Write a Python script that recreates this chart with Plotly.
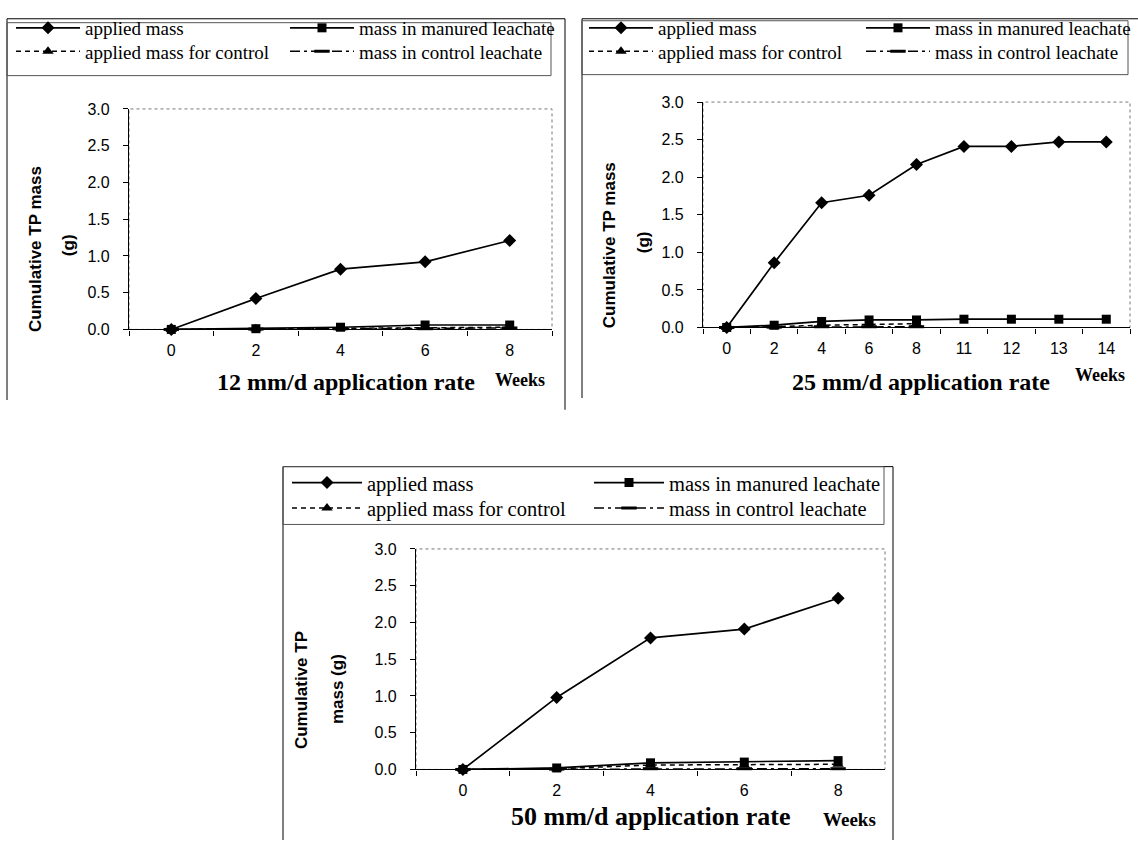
import plotly.graph_objects as go

W, H = 1138, 849

# ---------------- data ----------------
weeks_12 = ["0", "2", "4", "6", "8"]
applied_12 = [0.0, 0.42, 0.82, 0.92, 1.21]
manured_leach_12 = [0.0, 0.01, 0.03, 0.06, 0.06]
applied_ctrl_12 = [0.0, 0.01, 0.02, 0.03, 0.03]
ctrl_leach_12 = [0.0, 0.005, 0.01, 0.01, 0.02]

weeks_25 = ["0", "2", "4", "6", "8", "11", "12", "13", "14"]
applied_25 = [0.0, 0.86, 1.66, 1.76, 2.17, 2.41, 2.41, 2.47, 2.47]
manured_leach_25 = [0.0, 0.03, 0.08, 0.10, 0.10, 0.11, 0.11, 0.11, 0.11]
weeks_25_ctrl = ["0", "2", "4", "6", "8"]
applied_ctrl_25 = [0.0, 0.01, 0.03, 0.04, 0.05]
ctrl_leach_25 = [0.0, 0.005, 0.01, 0.01, 0.01]

weeks_50 = ["0", "2", "4", "6", "8"]
applied_50 = [0.0, 0.98, 1.79, 1.91, 2.33]
manured_leach_50 = [0.0, 0.02, 0.09, 0.10, 0.12]
applied_ctrl_50 = [0.0, 0.01, 0.06, 0.06, 0.07]
ctrl_leach_50 = [0.0, 0.005, 0.01, 0.01, 0.01]

series_names = ["applied mass", "mass in manured leachate",
                "applied mass for control", "mass in control leachate"]
rate_titles = ["12 mm/d application rate", "25 mm/d application rate",
               "50 mm/d application rate"]


def fx(p):
    return p / W


def fy(p):
    return 1 - p / H


SERIF = "Liberation Serif, Times New Roman, serif"
SANS = "Liberation Sans, Arial, sans-serif"

styles = [
    dict(dash="solid", symbol="diamond", size=10, lw=1.7),
    dict(dash="solid", symbol="square", size=9, lw=1.7),
    dict(dash="5px,4px", symbol="triangle-up", size=10, lw=1.5),
    dict(dash="10px,4px,3px,4px", symbol="line-ew", size=11, lw=1.5),
]

panels = [
    dict(x=[weeks_12, weeks_12, weeks_12, weeks_12],
         y=[applied_12, manured_leach_12, applied_ctrl_12, ctrl_leach_12],
         cats=weeks_12, plot=(129, 552, 103, 328),
         ytitle=[("Cumulative TP mass", 35, 246), ("(g)", 68, 242)],
         xtitle=(346, 382, 24), weeks=(520, 380, 18),
         leg=dict(x0=11, tops=(1, 25), iw=64, ew=195, fs=19),
         frame=[(7, 11, 7, 400), (7, 11, 565, 11), (565, 11, 565, 410)],
         legbox=(7, 15, 551, 69)),
    dict(x=[weeks_25, weeks_25, weeks_25_ctrl, weeks_25_ctrl],
         y=[applied_25, manured_leach_25, applied_ctrl_25, ctrl_leach_25],
         cats=weeks_25, plot=(703, 1130, 96, 326),
         ytitle=[("Cumulative TP mass", 609, 242), ("(g)", 643, 239)],
         xtitle=(921, 382, 24), weeks=(1100, 375, 18),
         leg=dict(x0=584, tops=(1, 25), iw=64, ew=198, fs=19),
         frame=[(582, 11, 582, 398), (582, 11, 1138, 11)],
         legbox=(582, 13, 1128, 68)),
    dict(x=[weeks_50, weeks_50, weeks_50, weeks_50],
         y=[applied_50, manured_leach_50, applied_ctrl_50, ctrl_leach_50],
         cats=weeks_50, plot=(416, 885, 552, 777),
         ytitle=[("Cumulative TP", 301, 696), ("mass (g)", 337, 695)],
         xtitle=(651, 825, 26), weeks=(849, 828, 19),
         leg=dict(x0=287, tops=(464, 490), iw=70, ew=217, fs=20.5),
         frame=[(283, 468, 283, 849), (283, 468, 893, 468), (893, 468, 893, 849)],
         legbox=(283, 468, 884, 527)),
]

fig = go.Figure()
layout = dict(width=W, height=H, margin=dict(l=0, r=0, t=0, b=0),
              paper_bgcolor="white", plot_bgcolor="white",
              font=dict(family=SANS, color="black"))
shapes = []
annotations = []
legend_idx = 1

for pi, p in enumerate(panels):
    suffix = "" if pi == 0 else str(pi + 1)
    xa, ya = "x" + suffix, "y" + suffix
    x0, x1, yt, yb = p["plot"]
    leg_names = []
    for r in range(2):
        leg_names.append("legend" + ("" if legend_idx == 1 else str(legend_idx)))
        legend_idx += 1
    for si in range(4):
        st = styles[si]
        marker = dict(symbol=st["symbol"], size=st["size"], color="black",
                      line=dict(color="black", width=3 if st["symbol"] == "line-ew" else 0))
        fig.add_trace(go.Scatter(
            x=p["x"][si], y=p["y"][si], name=series_names[si],
            mode="lines+markers", xaxis=xa, yaxis=ya,
            line=dict(color="black", width=st["lw"], dash=st["dash"]),
            marker=marker, cliponaxis=False,
            legend=leg_names[si // 2], showlegend=True))
    n = len(p["cats"])
    layout["xaxis" + suffix] = dict(
        domain=[fx(x0), fx(x1)], anchor=ya, type="category",
        categoryorder="array", categoryarray=p["cats"], range=[-0.5, n - 0.5],
        showline=True, linecolor="black", linewidth=1.3, mirror=False,
        ticks="outside", ticklen=5, tickcolor="black", tickwidth=1,
        tickson="boundaries", showgrid=False, zeroline=False,
        tickfont=dict(family=SANS, size=16, color="black"),
        ticklabelstandoff=6, fixedrange=True)
    layout["yaxis" + suffix] = dict(
        domain=[fy(yb), fy(yt)], anchor=xa, range=[0, 3], dtick=0.5,
        tickformat=".1f", showline=True, linecolor="black", linewidth=1.3,
        ticks="outside", ticklen=5, tickcolor="black", tickwidth=1,
        showgrid=False, zeroline=False,
        tickfont=dict(family=SANS, size=16, color="black"),
        ticklabelstandoff=10, fixedrange=True)
    # plot-area dotted border
    shapes.append(dict(type="rect", xref=xa + " domain", yref=ya + " domain",
                       x0=0, x1=1, y0=0, y1=1, layer="below",
                       line=dict(color="#777777", width=1, dash="dot")))
    # panel frame lines
    for (ax0, ay0, ax1, ay1) in p["frame"]:
        shapes.append(dict(type="line", xref="paper", yref="paper",
                           x0=fx(ax0), y0=fy(ay0), x1=fx(ax1), y1=fy(ay1),
                           line=dict(color="black", width=1)))
    bx0, by0, bx1, by1 = p["legbox"]
    shapes.append(dict(type="rect", xref="paper", yref="paper",
                       x0=fx(bx0), y0=fy(by1), x1=fx(bx1), y1=fy(by0),
                       line=dict(color="#555555", width=1)))
    # axis titles
    for (txt, tx, ty) in p["ytitle"]:
        annotations.append(dict(text="<b>%s</b>" % txt, xref="paper", yref="paper",
                                x=fx(tx), y=fy(ty), textangle=-90, showarrow=False,
                                xanchor="center", yanchor="middle",
                                font=dict(family=SANS, size=17, color="black")))
    tx, ty, tfs = p["xtitle"]
    annotations.append(dict(text="<b>%s</b>" % rate_titles[pi], xref="paper", yref="paper",
                            x=fx(tx), y=fy(ty), showarrow=False,
                            xanchor="center", yanchor="middle",
                            font=dict(family=SERIF, size=tfs, color="black")))
    wx, wy, wfs = p["weeks"]
    annotations.append(dict(text="<b>Weeks</b>", xref="paper", yref="paper",
                            x=fx(wx), y=fy(wy), showarrow=False,
                            xanchor="center", yanchor="middle",
                            font=dict(family=SERIF, size=wfs, color="black")))
    # legends (one per row, two columns each)
    lg = p["leg"]
    for r in range(2):
        layout[leg_names[r]] = dict(
            orientation="h", x=fx(lg["x0"]), xanchor="left",
            y=fy(lg["tops"][r]), yanchor="top",
            bgcolor="rgba(0,0,0,0)", borderwidth=0,
            itemwidth=lg["iw"], entrywidth=lg["ew"], entrywidthmode="pixels",
            font=dict(family=SERIF, size=lg["fs"], color="black"),
            itemclick=False, itemdoubleclick=False, traceorder="normal")

layout["shapes"] = shapes
layout["annotations"] = annotations
fig.update_layout(**layout)

fig.write_html("out.html", include_plotlyjs=True,
               config={"displayModeBar": False, "responsive": False},
               post_script="document.body.style.margin='0';")
